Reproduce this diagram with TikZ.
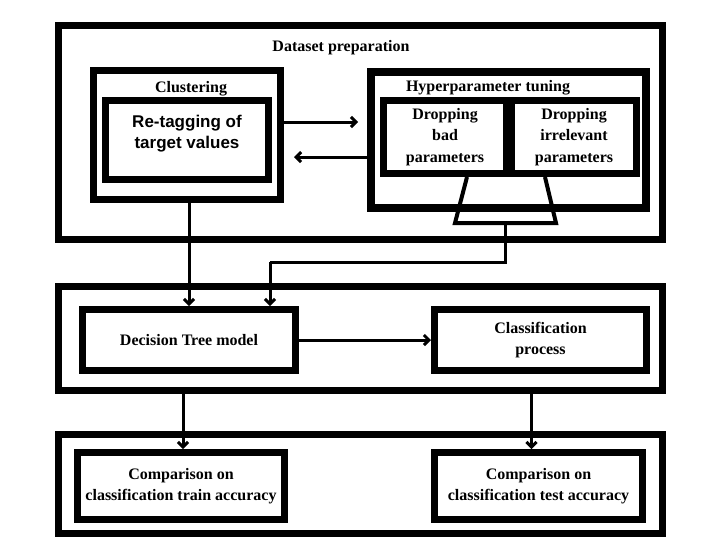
\documentclass[tikz,border=0pt]{standalone}
\usepackage{fontspec}
\setmainfont{Liberation Serif}
\newfontfamily\arialf{Liberation Sans}
\usetikzlibrary{arrows.meta}
\begin{document}
\begin{tikzpicture}[x=1pt,y=-1pt,
    box/.style={draw, line width=7pt, inner sep=0pt, align=center,
      font=\fontsize{16}{21.5}\selectfont\bfseries},
    lbl/.style={inner sep=0pt, font=\fontsize{16}{18}\selectfont\bfseries},
    arr/.style={line width=3pt, -{Straight Barb[length=5pt,width=10pt]}}]
  \useasboundingbox (0,0) rectangle (704,552);
  % dataset preparation
  \node[box, minimum width=604pt, minimum height=214pt] (b1) at (360.5,132.5) {};
  \node[lbl] (b1l) at (341,48) {Dataset preparation};
  \node[box, minimum width=187pt, minimum height=129pt] (clus) at (187,135) {};
  \node[lbl] (clusl) at (191,89) {Clustering};
  \node[box, minimum width=163pt, minimum height=79pt,
    font=\fontsize{17}{21}\selectfont\arialf\bfseries] (retag) at (187,140)
    {Re-tagging of\\target values\\[-4pt]};
  \node[box, line width=8pt, minimum width=275pt, minimum height=136pt] (hyp) at (508.5,140) {};
  \node[lbl] (hypl) at (488,88) {Hyperparameter tuning};
  \node[box, minimum width=123pt, minimum height=73pt] (bad) at (445,137)
    {Dropping\\bad\\parameters};
  \node[box, minimum width=125pt, minimum height=73pt] (irr) at (574,137)
    {Dropping\\irrelevant\\parameters};
  \coordinate (f1) at (467,177);
  \coordinate (f2) at (545,177);
  \coordinate (fb) at (505.5,223);
  \draw[line width=4pt] (f1) -- (455,223) -- (556,223) -- (f2);
  \coordinate (p1) at (358,122);
  \coordinate (p2) at (294,157);
  \draw[arr] (clus.east |- p1) -- (p1);
  \draw[arr] (hyp.west |- p2) -- (p2);
  % model
  \node[box, minimum width=604pt, minimum height=104pt] (b2) at (360.5,338.5) {};
  \node[box, minimum width=213pt, minimum height=61pt] (dt) at (189,340) {Decision Tree model};
  \node[box, minimum width=212pt, minimum height=61pt] (cp) at (540.5,340) {Classification\\process};
  \coordinate (k) at (270,262);
  \draw[arr] (clus.south -| dt.north) -- (dt.north);
  \draw[line width=3pt] (fb) |- (k);
  \draw[arr] (k) -- (k |- dt.north);
  \draw[arr] (dt.east) -- (cp.west);
  % accuracy
  \node[box, minimum width=604pt, minimum height=99pt] (b3) at (360.5,484) {};
  \node[box, minimum width=207pt, minimum height=67pt] (train) at (181,486)
    {Comparison on\\classification train accuracy};
  \node[box, minimum width=208pt, minimum height=67pt] (test) at (538.5,486)
    {Comparison on\\classification test accuracy};
  \draw[arr] ([xshift=2pt]train.north |- b2.south) -- ([xshift=2pt]train.north);
  \draw[arr] ([xshift=-7pt]test.north |- b2.south) -- ([xshift=-7pt]test.north);
\end{tikzpicture}
\end{document}
